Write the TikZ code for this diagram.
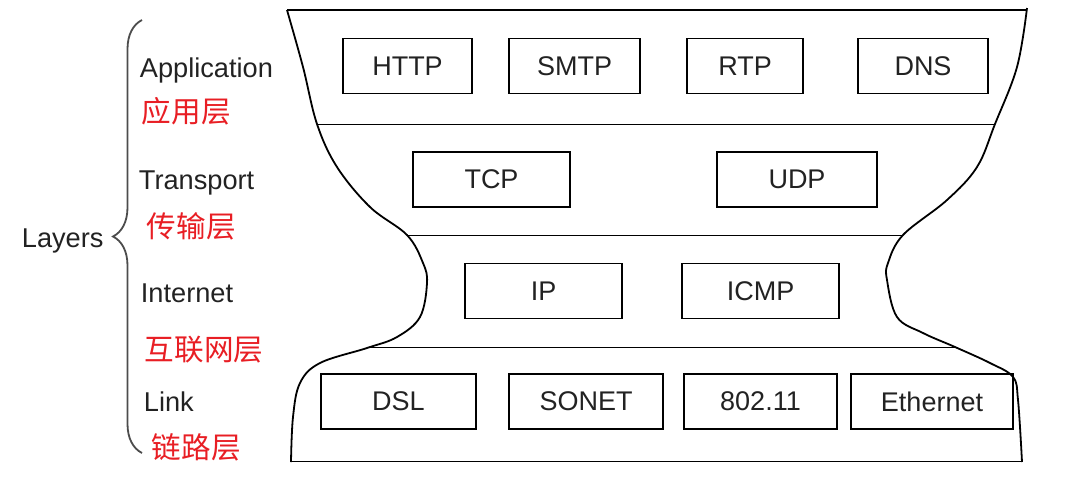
\documentclass[tikz,border=0pt]{standalone}
\usepackage{fontspec}
\setmainfont{Liberation Sans}
\newfontfamily\cjk{Noto Sans CJK SC}
\usetikzlibrary{decorations.pathreplacing}
\definecolor{ink}{RGB}{34,34,34}
\definecolor{labred}{RGB}{232,30,36}
\tikzset{
  proto/.style={draw,line width=0.9pt,minimum height=27.5pt,inner sep=0pt,font=\fontsize{13.5}{15}\selectfont,text=ink},
  layername/.style={anchor=base west,inner sep=0pt,font=\fontsize{13.6}{15}\selectfont,text=ink},
  cnname/.style={anchor=west,inner sep=0pt,font=\cjk\fontsize{14.8}{16}\selectfont,text=labred},
}

\begin{document}
\begin{tikzpicture}[x=0.5pt,y=-0.5pt,line width=0.9pt]
  \useasboundingbox (0,0) rectangle (1086,477);
  % hourglass outline
  \draw plot[smooth,tension=0.6] coordinates {(287,10) (303,67) (317,124) (337,167) (370,207) (407,235)
    (423,263) (427,283) (420,317) (397,337) (367,348) (320,363) (300,383) (293,417) (291,462)};
  \draw plot[smooth,tension=0.6] coordinates {(1027,8) (1017,67) (995,124) (977,167) (947,200) (903,235)
    (888,263) (887,280) (897,317) (923,333) (955,347) (990,363) (1013,377) (1018,400) (1022,462)};
  \draw (287,10) -- (1027,10);
  \draw (317,124.5) -- (995,124.5);
  \draw (407,235.5) -- (903,235.5);
  \draw (367,347.5) -- (955,347.5);
  \draw (291,461.5) -- (1022,461.5);
  % application
  \node[proto,minimum width=64.5pt] (http) at (407.5,66) {HTTP};
  \node[proto,minimum width=65.5pt] (smtp) at (574.5,66) {SMTP};
  \node[proto,minimum width=58pt] (rtp) at (745,66) {RTP};
  \node[proto,minimum width=65pt] (dns) at (923,66) {DNS};
  % transport
  \node[proto,minimum width=78.5pt] (tcp) at (491.5,179.5) {TCP};
  \node[proto,minimum width=80pt] (udp) at (797,179.5) {UDP};
  % internet
  \node[proto,minimum width=78.5pt] (ip) at (543.5,291) {IP};
  \node[proto,minimum width=78.5pt] (icmp) at (760.5,291) {ICMP};
  % link
  \node[proto,minimum width=77.5pt] (dsl) at (398.5,401.5) {DSL};
  \node[proto,minimum width=77pt] (sonet) at (586,401.5) {SONET};
  \node[proto,minimum width=76.5pt] (wifi) at (760.5,401.5) {802.11};
  \node[proto,minimum width=81pt] (eth) at (932,401.5) {Ethernet};
  % layer names
  \node[layername] (app) at (139,77) {Application};
  \node[cnname] (appcn) at (141,111) {应用层};
  \node[layername] (trans) at (138,189) {Transport};
  \node[cnname] (transcn) at (146,226) {传输层};
  \node[layername] (inet) at (140,302) {Internet};
  \node[cnname] (inetcn) at (144,349.5) {互联网层};
  \node[layername] (link) at (143,411) {Link};
  \node[cnname] (linkcn) at (151,447) {链路层};
  \node[layername] (layers) at (21,247) {Layers};
  \coordinate (brbot) at (142,453);
  \coordinate (brtop) at (142,20);
  \draw[black!70,decorate,decoration={brace,amplitude=14.5pt}] (brbot) -- (brtop);
\end{tikzpicture}
\end{document}
